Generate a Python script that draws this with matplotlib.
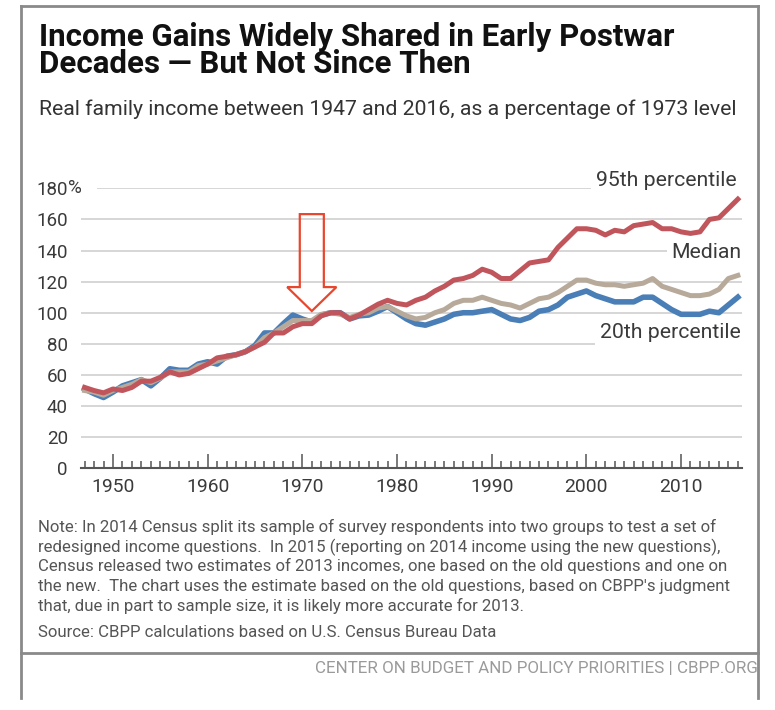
import matplotlib
matplotlib.use("Agg")
import matplotlib.pyplot as plt
from matplotlib.patches import FancyArrow
from matplotlib.lines import Line2D
from matplotlib.ticker import MultipleLocator

plt.rcParams['font.family'] = ['Roboto', 'DejaVu Sans']

years = list(range(1947, 2017))
p20 = [51, 48, 45.5, 49, 53, 55, 57, 53, 58, 64,
       63, 63, 67, 68.5, 67, 72, 73, 75, 79, 87,
       87, 93, 98.5, 96, 94, 98.5, 100, 100, 96, 98,
       98.5, 101, 104,
       100, 96, 93, 92, 94, 96, 99, 100, 100, 101,
       102, 99, 96, 95, 97, 101, 102, 105, 110, 112,
       114, 111, 109, 107, 107, 107, 110, 110, 106, 102,
       99, 99, 99, 101, 100, 105, 110]
median = [50, 49, 47, 50, 52, 54, 57, 55, 58, 62,
          62, 62, 66, 67, 69, 71, 73, 75, 78, 84,
          87, 91, 95, 95, 95, 99, 100, 99, 97, 99,
          100, 103, 104,
          101, 98, 96, 97, 100, 102, 106, 108, 108, 110,
          108, 106, 105, 103, 106, 109, 110, 113, 117, 121,
          121, 119, 118, 118, 117, 118, 119, 122, 117, 115,
          113, 111, 111, 112, 115, 122, 124]
p95 = [52, 50, 48.5, 51, 50, 52, 56, 56, 58.5, 62,
       60, 61, 64, 67, 71, 72, 73, 75, 78, 81,
       87, 87, 91, 93, 93, 98, 100, 100, 96, 98.5,
       102, 105.5, 108,
       106, 105, 108, 110, 114, 117, 121, 122, 124, 128,
       126, 122, 122, 127, 132, 133, 134, 142, 148, 154,
       154, 153, 150, 153, 152, 156, 157, 158, 154, 154,
       152, 151, 152, 160, 161, 167, 173]
yticks = [0, 20, 40, 60, 80, 100, 120, 140, 160, 180]
xticks = [1950, 1960, 1970, 1980, 1990, 2000, 2010]

W, H = 775, 710
fig = plt.figure(figsize=(W / 100, H / 100), dpi=100)
fig.patch.set_facecolor('white')
renderer = fig.canvas.get_renderer()


def fx(px):
    return px / W


def fy(py):
    return 1 - py / H


def fit(t, width, lo, hi):
    # scale a text's font size toward a target pixel width, kept within lo..hi pt
    w = t.get_window_extent(renderer).width
    size = min(max(t.get_fontsize() * width / w, lo), hi)
    t.set_fontsize(size)
    return size


def size_for(s, width, lo, hi):
    t = fig.text(0, 0, s, fontsize=10)
    size = fit(t, width, lo, hi)
    t.remove()
    return size


xsize = size_for('1950', 43, 13.5, 15.5)
ysize = size_for('160', 31, 13.5, 15.5)
lsize = size_for('95th percentile', 141, 14.5, 16)

ax = fig.add_axes([fx(81), fy(468.3), fx(742) - fx(81), fy(188.3) - fy(468.3)])
ax.set_xlim(1946.62, 2016.44)
ax.set_ylim(0, 180)

ax.plot(years, p20, color='#4a7eb6', lw=4, solid_joinstyle='round', zorder=3, clip_on=False)
ax.plot(years, median, color='#b8aa9a', lw=3.6, solid_joinstyle='round', zorder=4, clip_on=False)
ax.plot(years, p95, color='#c1555c', lw=3.6, solid_joinstyle='round', zorder=5, clip_on=False)

for s in ['top', 'right', 'left']:
    ax.spines[s].set_visible(False)
ax.spines['bottom'].set_color('#555555')
ax.spines['bottom'].set_linewidth(1.5)

ax.set_yticks(yticks)
ax.set_yticklabels([str(v) for v in yticks])
ax.tick_params(axis='y', length=0, pad=9.5, labelsize=ysize, labelcolor='#3a3a3a')
ax.set_xticks(xticks)
ax.xaxis.set_minor_locator(MultipleLocator(1))
ax.tick_params(axis='x', which='major', direction='in', length=10, width=1.1,
               color='#555555', pad=7, labelsize=xsize, labelcolor='#3a3a3a')
ax.tick_params(axis='x', which='minor', direction='in', length=5, width=1.1, color='#555555')

# gridlines; the top one starts after the "180%" label
grid_start = [1946.62] * (len(yticks) - 1) + [1948.3]
ax.hlines(yticks[1:], grid_start[1:], 2016.44, color='#cfcfcf', lw=1.2, zorder=1)

ax.text(-0.0197, 180, '%', transform=ax.get_yaxis_transform(), ha='left', va='center',
        fontsize=ysize, color='#3a3a3a')

lbl = dict(ha='right', va='center', fontsize=lsize, color='#3a3a3a',
           bbox=dict(facecolor='white', edgecolor='none', pad=3.5), zorder=6)
ax.text(2015.9, 185, '95th percentile', **lbl)
ax.text(2016.4, 138.5, 'Median', **lbl)
ax.text(2016.3, 87.5, '20th percentile', **lbl)

arrow = FancyArrow(1971.0, 163.4, 0, -62.3, width=2.54, head_width=5.2, head_length=15.4,
                   length_includes_head=True, fill=False, ec='#e9472d', lw=1.6, zorder=7,
                   clip_on=False)
ax.add_patch(arrow)

# titles (va='baseline' puts the last line's baseline at y)
title = fig.text(fx(39), fy(73),
                 'Income Gains Widely Shared in Early Postwar\nDecades \u2014 But Not Since Then',
                 fontsize=20.5, fontweight='bold', color='#111111', va='baseline',
                 linespacing=0.88)
fit(title, 670, 19, 22.5)
sub = fig.text(fx(39), fy(115), 'Real family income between 1947 and 2016, as a percentage of 1973 level',
               fontsize=15, color='#333333', va='baseline')
fit(sub, 701, 14, 16)

note_lines = [
    "Note: In 2014 Census split its sample of survey respondents into two groups to test a set of",
    "redesigned income questions.  In 2015 (reporting on 2014 income using the new questions),",
    "Census released two estimates of 2013 incomes, one based on the old questions and one on",
    "the new.  The chart uses the estimate based on the old questions, based on CBPP's judgment",
    "that, due in part to sample size, it is likely more accurate for 2013.",
]
nsize = size_for(note_lines[0], 682, 11, 12.3)
for i, line in enumerate(note_lines):
    fig.text(fx(38), fy(532 + 19.7 * i), line, fontsize=nsize, color='#555555', va='baseline')
fig.text(fx(38), fy(637), 'Source: CBPP calculations based on U.S. Census Bureau Data',
         fontsize=nsize, color='#555555', va='baseline')
foot = fig.text(fx(758), fy(673), 'CENTER ON BUDGET AND POLICY PRIORITIES | CBPP.ORG',
                fontsize=12, color='#9a9a9a', ha='right', va='baseline')
fit(foot, 445, 11, 12.8)

# frame
frame = dict(color='#8a8a8a', lw=2, transform=fig.transFigure)
fig.add_artist(Line2D([fx(21), fx(21)], [fy(6), fy(698)], **frame))
fig.add_artist(Line2D([fx(758), fx(758)], [fy(6), fy(698)], **frame))
fig.add_artist(Line2D([fx(21), fx(758)], [fy(6), fy(6)], **frame))
fig.add_artist(Line2D([fx(21), fx(758)], [fy(653), fy(653)], **frame))

fig.savefig('out.png', dpi=100)
